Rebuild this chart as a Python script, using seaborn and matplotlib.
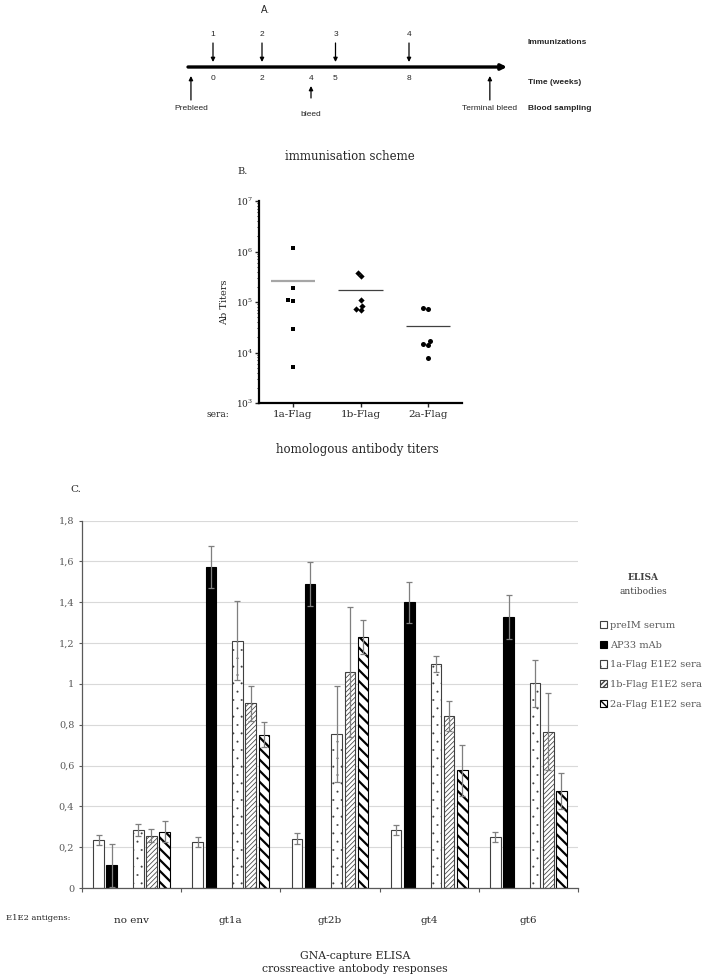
import numpy as np
import pandas as pd
import matplotlib
matplotlib.use("Agg")
import matplotlib.pyplot as plt
from matplotlib.patches import Patch
from matplotlib.container import BarContainer
import seaborn as sns

# A. immunisation scheme
immun_numbers = ["1", "2", "3", "4"]
immun_weeks = [0, 2, 5, 8]
time_ticks = [0, 2, 4, 5, 8]
bleed_labels = ["Prebleed", "bleed", "Terminal bleed"]
bleed_weeks = [-0.9, 4, 11.3]

# B. homologous antibody titers
sera_b = ["1a-Flag", "1b-Flag", "2a-Flag"]
titers_1a = [1.15e6, 1.9e5, 1.07e5, 1.1e5, 2.9e4, 5.2e3]
titers_1b = [3.8e5, 3.2e5, 1.11e5, 8.3e4, 7.3e4, 6.9e4]
titers_2a = [7.5e4, 7.2e4, 1.7e4, 1.5e4, 1.38e4, 7.8e3]

# C. GNA-capture ELISA
antigens = ["no env", "gt1a", "gt2b", "gt4", "gt6"]
series = ["preIM serum", "AP33 mAb", "1a-Flag E1E2 sera",
          "1b-Flag E1E2 sera", "2a-Flag E1E2 sera"]
preim_mean = [0.235, 0.225, 0.242, 0.283, 0.25]
preim_err = [0.025, 0.026, 0.025, 0.025, 0.025]
ap33_mean = [0.111, 1.572, 1.489, 1.399, 1.327]
ap33_err = [0.106, 0.105, 0.108, 0.10, 0.108]
flag1a_mean = [0.284, 1.212, 0.754, 1.097, 1.003]
flag1a_err = [0.028, 0.193, 0.237, 0.04, 0.115]
flag1b_mean = [0.255, 0.905, 1.057, 0.843, 0.766]
flag1b_err = [0.032, 0.086, 0.318, 0.074, 0.188]
flag2a_mean = [0.276, 0.751, 1.229, 0.576, 0.476]
flag2a_err = [0.05, 0.06, 0.082, 0.124, 0.089]

sns.set_style("white")
plt.rcParams["font.family"] = ["DejaVu Serif"]
plt.rcParams["mathtext.fontset"] = "dejavuserif"

W, H = 714, 976
fig = plt.figure(figsize=(W / 100, H / 100), dpi=100)


def fx(px):
    return px / W


def fy(py):
    return 1 - py / H


# ---------------- panel A ----------------
sans = "Liberation Sans"
fs_a = 6
ax_a = fig.add_axes([0, fy(130), 1, 130 / H])
ax_a.set_xlim(-213 / 24.5, (W - 213) / 24.5)
ax_a.set_ylim(130, 0)
ax_a.axis("off")

arrow_small = dict(arrowstyle="-|>", lw=0.9, color="black", mutation_scale=6,
                   shrinkA=0, shrinkB=0)
ax_a.annotate("", xy=(12.0, 67), xytext=(-1.02, 67),
              arrowprops=dict(arrowstyle="-|>", lw=2.4, color="black",
                              mutation_scale=8, shrinkA=0, shrinkB=0,
                              capstyle="round"))
for num, w in zip(immun_numbers, immun_weeks):
    ax_a.text(w, 35, num, ha="center", va="center", fontsize=fs_a, family=sans)
    ax_a.annotate("", xy=(w, 62), xytext=(w, 43), arrowprops=arrow_small)
for w in time_ticks:
    ax_a.text(w, 79, str(w), ha="center", va="center", fontsize=fs_a, family=sans)
for lab, w in zip(bleed_labels, bleed_weeks):
    if lab == "bleed":
        ax_a.annotate("", xy=(w, 86), xytext=(w, 98), arrowprops=arrow_small)
        ax_a.text(w, 114, lab, ha="center", va="center", fontsize=fs_a, family=sans)
    else:
        ax_a.annotate("", xy=(w, 76), xytext=(w, 100), arrowprops=arrow_small)
        ax_a.text(w, 108, lab, ha="center", va="center", fontsize=fs_a, family=sans)
for lab, py in [("Immunizations", 43), ("Time (weeks)", 82), ("Blood sampling", 108)]:
    ax_a.text(fx(528), py, lab, transform=ax_a.get_yaxis_transform(),
              ha="left", va="center", fontsize=fs_a, family=sans, weight="bold")

fig.text(fx(261), fy(10), "A.", ha="left", va="center", fontsize=7, family=sans)
fig.text(fx(350), fy(156), "immunisation scheme", ha="center", va="center", fontsize=8.5)

# ---------------- panel B ----------------
ax_b = fig.add_axes([fx(259), fy(403), fx(462) - fx(259), (403 - 201) / H])
df_b = pd.DataFrame({
    "sera": np.repeat(sera_b, [len(titers_1a), len(titers_1b), len(titers_2a)]),
    "titer": titers_1a + titers_1b + titers_2a,
})
markers_b = {"1a-Flag": "s", "1b-Flag": "D", "2a-Flag": "o"}
sizes_b = {"1a-Flag": 3.4, "1b-Flag": 3.2, "2a-Flag": 3.6}
for s in sera_b:
    sns.swarmplot(data=df_b[df_b["sera"] == s], x="sera", y="titer", order=sera_b,
                  marker=markers_b[s], size=sizes_b[s], color="black",
                  log_scale=True, ax=ax_b)
means_b = df_b.groupby("sera", sort=False)["titer"].mean()
for i, s in enumerate(sera_b):
    if s == "1a-Flag":
        ax_b.hlines(means_b[s], i - 0.33, i + 0.33, colors="#a6a6a6", lw=1.6)
    else:
        ax_b.hlines(means_b[s], i - 0.33, i + 0.33, colors="#404040", lw=0.9)
ax_b.set_xlim(-0.5, 2.5)
ax_b.set_ylim(1e3, 1e7)
ax_b.set_xlabel("")
ax_b.set_ylabel("Ab Titers", fontsize=7, labelpad=5)
for side in ["top", "right"]:
    ax_b.spines[side].set_visible(False)
for side in ["left", "bottom"]:
    ax_b.spines[side].set_linewidth(1.6)
    ax_b.spines[side].set_color("black")
ax_b.tick_params(axis="y", which="major", length=3, width=1.0, labelsize=6.5, pad=1, left=True)
ax_b.tick_params(axis="y", which="minor", length=1.8, width=0.7, left=True)
ax_b.tick_params(axis="x", length=3, width=1.0, labelsize=7.5, pad=2, bottom=True)
fig.text(fx(218), fy(415), "sera:", ha="center", va="center", fontsize=6.5)
fig.text(fx(237), fy(172), "B.", ha="left", va="center", fontsize=7)
fig.text(fx(357), fy(449), "homologous antibody titers", ha="center", va="center", fontsize=8.5)

# ---------------- panel C ----------------
ax_c = fig.add_axes([fx(82), fy(888), fx(578) - fx(82), (888 - 520.5) / H])
means_c = [preim_mean, ap33_mean, flag1a_mean, flag1b_mean, flag2a_mean]
errs_c = [preim_err, ap33_err, flag1a_err, flag1b_err, flag2a_err]
df_c = pd.DataFrame({
    "antigen": antigens * len(series),
    "serum": np.repeat(series, len(antigens)),
    "od": np.concatenate(means_c),
    "err": np.concatenate(errs_c),
})
# an empty slot sits between AP33 and the Flag sera in every group
hue_order = series[:2] + [""] + series[2:]
styles = {
    "preIM serum": dict(fc="white", ec="#404040", hatch=None, hlw=0.5),
    "AP33 mAb": dict(fc="black", ec="black", hatch=None, hlw=0.5),
    "1a-Flag E1E2 sera": dict(fc="white", ec="#404040", hatch="..", hlw=0.2),
    "1b-Flag E1E2 sera": dict(fc="white", ec="#404040", hatch="///////", hlw=0.55),
    "2a-Flag E1E2 sera": dict(fc="white", ec="black", hatch="\\\\\\", hlw=1.6),
}
palette = {s: styles[s]["fc"] for s in series}
palette[""] = "white"
sns.barplot(data=df_c, x="antigen", y="od", hue="serum", order=antigens,
            hue_order=hue_order, palette=palette, saturation=1, errorbar=None,
            width=0.8, gap=0.2, legend=False, ax=ax_c)

containers = [c for c in ax_c.containers if isinstance(c, BarContainer)]
levels = hue_order if len(containers) == len(hue_order) else series
xs, hs, es = [], [], []
for lev, cont in zip(levels, containers):
    if lev == "":
        continue
    st = styles[lev]
    sub = df_c[df_c["serum"] == lev].set_index("antigen")
    for p in cont.patches:
        p.set_facecolor(st["fc"])
        p.set_edgecolor(st["ec"])
        p.set_linewidth(0.8)
        if st["hatch"]:
            p.set_hatch(st["hatch"])
            if hasattr(p, "set_hatch_linewidth"):
                p.set_hatch_linewidth(st["hlw"])
            else:
                p._hatch_linewidth = st["hlw"]
        cx = p.get_x() + p.get_width() / 2
        ag = antigens[int(round(cx))]
        xs.append(cx)
        hs.append(p.get_height())
        es.append(sub.loc[ag, "err"])
ax_c.errorbar(xs, hs, yerr=es, fmt="none", ecolor="#7f7f7f", elinewidth=0.9,
              capsize=2.2, capthick=0.9, zorder=5)

ax_c.set_xlim(-0.5, len(antigens) - 0.5)
ax_c.set_ylim(0, 1.8)
yt = np.round(np.arange(0, 1.81, 0.2), 1)
ax_c.set_yticks(yt)
ax_c.set_yticklabels([f"{v:g}".replace(".", ",") for v in yt])
ax_c.set_xticks(np.arange(-0.5, len(antigens)), minor=True)
ax_c.yaxis.grid(True, color="#d9d9d9", lw=0.8)
ax_c.set_axisbelow(True)
ax_c.set_xlabel("")
ax_c.set_ylabel("")
for side in ["top", "right"]:
    ax_c.spines[side].set_visible(False)
for side in ["left", "bottom"]:
    ax_c.spines[side].set_color("#595959")
    ax_c.spines[side].set_linewidth(0.9)
ax_c.tick_params(axis="y", length=2.5, width=0.8, color="#595959", labelsize=7,
                 labelcolor="#595959", pad=3, left=True)
ax_c.tick_params(axis="x", which="major", length=0, labelsize=7.5,
                 labelcolor="#262626", pad=20)
ax_c.tick_params(axis="x", which="minor", length=3, width=0.8, color="#595959", bottom=True)

handles = [Patch(facecolor=styles[s]["fc"], edgecolor=styles[s]["ec"],
                 hatch=styles[s]["hatch"], lw=0.8) for s in series]
leg = ax_c.legend(handles, series, loc="upper left", bbox_to_anchor=(fx(600), fy(621)),
                  bbox_transform=fig.transFigure, frameon=False, fontsize=7,
                  handlelength=0.75, handleheight=0.75, handletextpad=0.3,
                  labelspacing=1.1, borderpad=0, borderaxespad=0)
for t in leg.get_texts():
    t.set_color("#595959")
fig.text(fx(643), fy(578), "ELISA", ha="center", va="center", fontsize=6.5,
         weight="bold", color="#404040")
fig.text(fx(643), fy(592), "antibodies", ha="center", va="center", fontsize=6.5,
         color="#404040")
fig.text(fx(70), fy(918), "E1E2 antigens:", ha="right", va="center", fontsize=6,
         color="#262626")
fig.text(fx(70), fy(489), "C.", ha="left", va="center", fontsize=7.5)
fig.text(fx(355), fy(956), "GNA-capture ELISA", ha="center", va="center", fontsize=7.8)
fig.text(fx(355), fy(969), "crossreactive antobody responses", ha="center",
         va="center", fontsize=7.8)

fig.savefig("out.png", dpi=100)
